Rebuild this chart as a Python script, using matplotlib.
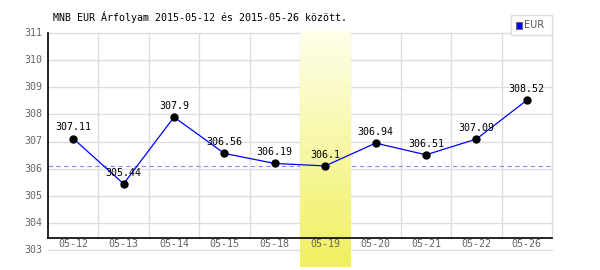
import matplotlib
matplotlib.use("Agg")
import matplotlib.pyplot as plt
import numpy as np
from matplotlib.patches import Rectangle

dates = ["05-12", "05-13", "05-14", "05-15", "05-18", "05-19", "05-20", "05-21", "05-22", "05-26"]
values = [307.11, 305.44, 307.9, 306.56, 306.19, 306.1, 306.94, 306.51, 307.09, 308.52]
labels = ["307.11", "305.44", "307.9", "306.56", "306.19", "306.1", "306.94", "306.51", "307.09", "308.52"]
yticks = [303, 304, 305, 306, 307, 308, 309, 310, 311]
highlight = 5
title = "MNB EUR Árfolyam 2015-05-12 és 2015-05-26 között."

W, H = 600, 270
fig = plt.figure(figsize=(6, 2.7), dpi=100)
L, R, T, B = 48, 552, 33, 250
ax = fig.add_axes([L / W, 1 - B / H, (R - L) / W, (B - T) / H])
mono = "DejaVu Sans Mono"
fs = 7.2
n = len(dates)
x = np.arange(n)
ax.set_xlim(-0.5, n - 0.5)
ax.set_ylim(303, 311)
for s in ax.spines.values():
    s.set_visible(False)
ax.set_xticks([])
ax.set_yticks([])

upp = (B - T) / 8.0  # pixels per unit
def pix2val(py):
    return 303 + (B - py) / upp

axis_y = pix2val(238)
grid_c = "#dddddd"
# horizontal gridlines
for v in yticks:
    ax.plot([-0.5, n - 0.5], [v, v], color=grid_c, lw=1, zorder=1, clip_on=False)
    ax.text(-0.5 - 6 / 50.4, v, str(v), ha="right", va="center", fontsize=fs,
            family=mono, color="#666666")
# vertical gridlines
for i in range(n):
    xv = i + 0.5
    ax.plot([xv, xv], [axis_y, 311], color=grid_c, lw=1, zorder=1, clip_on=False)

# reference dashed line
ax.plot([-0.5, n - 0.5], [values[highlight]] * 2, color="#8888ff", lw=0.8,
        ls=(0, (4, 3)), zorder=2)

# highlight band gradient
grad = np.linspace(0, 1, 100).reshape(-1, 1)
top = np.array([254, 254, 234]) / 255
bot = np.array([240, 240, 96]) / 255
img = top[None, None, :] * (1 - grad[:, :, None]) + bot[None, None, :] * grad[:, :, None]
ax.imshow(img, extent=[highlight - 0.5, highlight + 0.5, pix2val(267), pix2val(31)],
          aspect="auto", zorder=3, clip_on=False, interpolation="bilinear")
ax.set_xlim(-0.5, n - 0.5)
ax.set_ylim(303, 311)

# axes lines
ax.plot([-0.5, n - 0.5], [axis_y, axis_y], color="black", lw=1.2, zorder=4, clip_on=False)
ax.plot([-0.5, -0.5], [axis_y, 311], color="black", lw=1.2, zorder=4, clip_on=False)

# x labels
for i, d in enumerate(dates):
    ax.text(i, pix2val(244), d, ha="center", va="center", fontsize=fs,
            family=mono, color="#666666", zorder=5)

# data
ax.plot(x, values, color="#0000ff", lw=0.9, zorder=5)
ax.plot(x, values, "o", color="black", ms=5, zorder=6)
for i, (v, lab) in enumerate(zip(values, labels)):
    ax.annotate(lab, (i, v), xytext=(0, 4.5), textcoords="offset points",
                ha="center", va="bottom", fontsize=fs, family=mono, color="black", zorder=7)

# title
fig.text(53 / W, 1 - 17 / H, title, ha="left", va="center", fontsize=fs,
         family=mono, color="black")

# legend
fig.patches.append(Rectangle((511 / W, 1 - 35 / H), 41 / W, 20 / H, transform=fig.transFigure,
                             facecolor="white", edgecolor="#dddddd", lw=1, zorder=10))
fig.patches.append(Rectangle((516 / W, 1 - 28.5 / H), 6 / W, 6 / H, transform=fig.transFigure,
                             facecolor="#0000ff", edgecolor="#666666", lw=0.8, zorder=11))
fig.text(524 / W, 1 - 25.5 / H, "EUR", ha="left", va="center", fontsize=7,
         family="DejaVu Sans", color="#555555", zorder=12)

fig.savefig("out.png", dpi=100)
